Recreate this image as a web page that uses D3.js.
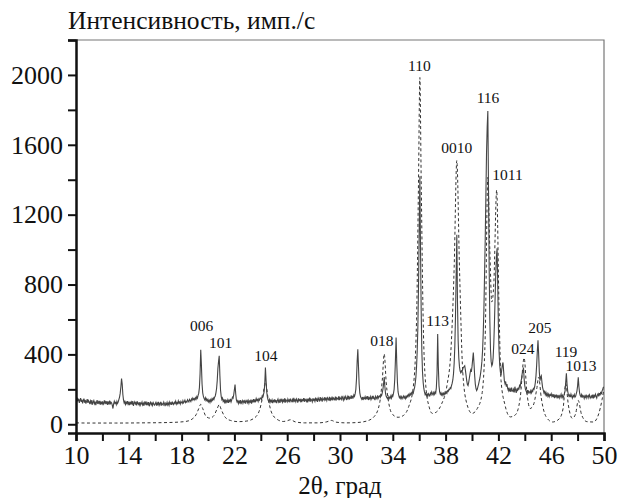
<!DOCTYPE html>
<html>
<head>
<meta charset="utf-8">
<script src="https://cdn.jsdelivr.net/npm/d3@7"></script>
<style>
body { margin: 0; background: #fff; }
text { font-family: "Liberation Serif", "Times New Roman", serif; fill: #111; }
</style>
</head>
<body>
<svg id="chart" width="621" height="498"></svg>
<script>
// experimental pattern, one count every 0.05 deg starting at 10
var expStart = 10
var expStep = 0.05
var expCounts = [
140,126,152,133,146,122,138,150,128,141,120,135,147,124,139,118,131,144,122,136,
128,115,133,121,139,112,127,136,118,130,110,125,138,116,129,121,134,112,126,119,
131,109,124,137,115,128,120,133,111,126,118,135,114,127,122,108,90,117,132,120,
125,113,131,119,128,142,156,178,215,262,230,170,138,122,131,114,126,119,133,115,
124,110,130,118,127,112,133,105,121,129,116,124,108,131,119,113,126,102,122,117,
128,111,120,106,125,117,131,109,122,114,127,103,119,126,112,121,108,124,116,110,
118,125,107,121,113,128,109,119,124,106,122,115,110,127,118,104,120,113,126,111,
121,109,127,116,123,111,130,118,113,126,120,132,115,124,118,134,121,127,116,131,
125,119,134,122,129,138,124,131,127,140,133,128,142,136,130,145,138,150,141,147,
139,152,144,158,150,165,178,210,290,426,340,230,180,160,148,140,152,136,145,133,
141,128,137,125,140,131,146,138,150,142,155,162,180,205,250,320,360,392,280,195,
160,142,150,131,138,126,142,120,135,128,140,122,137,131,146,128,140,155,150,170,
198,227,175,140,128,135,119,132,124,138,115,129,136,121,133,126,140,118,131,137,
124,136,120,133,127,141,118,135,129,144,125,138,131,147,136,142,130,145,138,150,
150,142,160,155,170,185,230,325,250,185,155,138,131,142,125,137,129,140,121,136,
130,143,126,139,121,135,144,128,137,122,140,133,146,127,138,131,149,124,141,135,
128,144,132,139,125,147,136,130,142,126,151,133,140,129,145,137,124,148,135,141,
132,146,127,140,136,150,129,143,138,131,147,125,142,136,153,130,144,139,128,149,
137,142,131,152,138,145,128,149,140,134,155,139,146,130,150,143,137,156,141,148,
135,151,144,139,157,133,148,142,158,137,150,145,140,159,136,152,147,143,160,138,
153,146,141,162,149,138,155,144,160,151,139,158,147,163,142,154,150,165,145,158,
152,168,160,175,200,260,360,430,330,230,180,160,150,143,156,139,152,147,158,141,
155,148,161,139,152,146,158,141,150,163,144,157,149,138,160,152,145,166,150,158,
162,155,170,164,180,200,230,270,215,175,160,152,147,158,143,155,149,162,150,168,
160,175,200,260,370,496,350,240,185,165,152,160,148,158,145,154,162,150,158,147,
160,152,165,158,170,162,175,168,180,172,185,178,195,210,235,270,330,420,560,800,
1100,1420,1000,650,420,300,240,205,185,170,178,165,172,160,175,168,162,178,170,185,
175,168,182,172,185,178,210,290,517,330,220,185,172,180,168,176,165,178,170,182,
175,185,178,192,188,200,198,210,205,222,235,255,290,350,450,620,850,1085,700,480,
380,330,305,295,305,300,318,325,330,335,310,280,250,228,222,240,265,290,310,300,
330,370,411,350,280,230,205,193,200,215,230,248,265,290,320,360,420,520,650,850,
1050,1300,1550,1700,1794,1350,900,600,430,360,335,345,380,460,580,720,860,960,1007,800,
560,420,340,300,280,310,340,354,300,250,233,245,215,230,205,193,210,188,200,185,
210,193,188,200,182,215,195,180,205,190,210,198,222,215,240,260,290,300,325,260,
220,200,190,180,195,175,190,185,178,192,180,195,188,205,200,215,240,280,340,420,
481,400,300,250,270,278,240,210,195,180,188,170,182,165,175,160,172,158,170,165,
175,160,168,155,172,150,165,158,170,148,162,155,168,150,160,172,155,165,150,162,
175,190,240,292,230,190,170,160,168,155,172,160,150,165,158,170,155,160,175,190,
220,269,215,180,165,158,170,152,165,160,148,162,155,170,150,160,165,152,168,158,
150,162,155,170,148,165,158,172,160,150,168,175,160,178,165,185,172,190,200,212,
210]

// calculated pattern (dashed)
var calcTheta = [10,11,13,15,17,18.3,18.8,19.1,19.3,19.45,19.6,19.85,20.15,20.45,20.7,20.85,21,21.3,21.7,22.3,
	22.9,23.5,23.9,24.15,24.35,24.55,24.8,25.2,25.7,26,26.25,26.6,27.3,28.3,29,29.35,29.7,30.5,31.3,32,
	32.6,33,33.2,33.35,33.5,33.75,34,34.4,34.8,35.2,35.55,35.8,35.95,36.05,36.15,36.3,36.5,36.75,37,37.3,
	37.7,38.1,38.4,38.65,38.85,39.05,39.3,39.6,40,40.4,40.75,41,41.2,41.35,41.5,41.65,41.87,42.05,42.2,42.5,
	42.9,43.3,43.65,43.95,44.15,44.4,44.65,44.9,45.05,45.25,45.6,46.1,46.6,46.9,47.1,47.3,47.6,47.85,48.05,48.3,
	48.7,49.2,49.6,49.85,50]
var calcCounts = [8,7,7,8,10,16,30,55,90,114,90,45,35,50,90,112,85,40,22,15,
	18,35,80,160,240,150,70,30,16,20,26,14,8,8,14,22,12,8,10,18,
	45,120,250,403,240,100,55,40,50,100,212,600,1400,1985,1400,600,220,100,62,70,
	117,220,420,900,1510,900,300,120,62,90,170,500,1415,1000,700,800,1341,650,250,110,
	42,55,150,380,190,90,110,200,270,150,45,13,30,90,233,110,34,60,136,55,
	15,13,60,140,205]

// reflections
var hklLabels = ["006","101","104","018","110","113","0010","116","1011","024","205","119","1013"]
var hklTheta = [19.52,20.95,24.38,33.18,36.02,37.39,38.84,41.21,42.69,43.86,45.15,47.12,48.26]
var hklCounts = [534,437,362,448,2023,563,1553,1839,1397,405,523,385,305]

var yTicks = d3.range(0, 2201, 200)
var xTicks = d3.range(10, 51, 2)

var svg = d3.select("#chart")
var pLeft = 76, pRight = 604, pTop = 40, pBottom = 433

var x = d3.scaleLinear().domain([10, 50]).range([pLeft, pRight])
var y = d3.scaleLinear().domain([-50, 2200]).range([pBottom, pTop])

svg.append("defs").append("clipPath").attr("id", "plot")
	.append("rect").attr("x", pLeft).attr("y", pTop).attr("width", pRight - pLeft).attr("height", pBottom - pTop)

// frame top and right
svg.append("path")
	.attr("d", "M" + pLeft + "," + pTop + "H" + pRight + "V" + pBottom)
	.attr("fill", "none").attr("stroke", "#777").attr("stroke-width", 1.2)

var expData = expCounts.map(function(c, i) { return [expStart + i * expStep, c] })
var calcData = calcTheta.map(function(t, i) { return [t, calcCounts[i]] })

var plot = svg.append("g").attr("clip-path", "url(#plot)")

plot.append("path")
	.datum(calcData)
	.attr("d", d3.line().x(function(d) { return x(d[0]) }).y(function(d) { return y(d[1]) }).curve(d3.curveMonotoneX))
	.attr("fill", "none").attr("stroke", "#333").attr("stroke-width", 1).attr("stroke-dasharray", "3,2.5")

plot.append("path")
	.datum(expData)
	.attr("d", d3.line().x(function(d) { return x(d[0]) }).y(function(d) { return y(d[1]) }))
	.attr("fill", "none").attr("stroke", "#444").attr("stroke-width", 1.1)

// axes
var yAxis = svg.append("g").attr("transform", "translate(" + pLeft + ",0)")
	.call(d3.axisLeft(y).tickValues(yTicks).tickSize(8).tickPadding(5)
		.tickFormat(function(d) { return d % 400 == 0 && d <= 2000 ? d : "" }))
var xAxis = svg.append("g").attr("transform", "translate(0," + pBottom + ")")
	.call(d3.axisBottom(x).tickValues(xTicks).tickSize(8).tickPadding(5)
		.tickFormat(function(d) { return (d - 10) % 4 == 0 ? d : "" }))

svg.selectAll(".domain").attr("stroke", "#111").attr("stroke-width", 2.5)
svg.selectAll(".tick line").attr("stroke", "#111").attr("stroke-width", 2)
svg.selectAll(".tick text").style("font-size", "26px").attr("fill", "#111")
	.style("font-family", '"Liberation Serif", serif')

// peak labels
svg.selectAll(".hkl")
	.data(hklLabels)
	.enter().append("text")
	.attr("class", "hkl")
	.attr("x", function(d, i) { return x(hklTheta[i]) })
	.attr("y", function(d, i) { return y(hklCounts[i]) })
	.attr("text-anchor", "middle")
	.style("font-size", "15.5px")
	.text(function(d) { return d })

svg.append("text").attr("x", 68).attr("y", 29).style("font-size", "25.5px")
	.text("Интенсивность, имп./с")
svg.append("text").attr("x", 340).attr("y", 494).attr("text-anchor", "middle").style("font-size", "25px")
	.text("2θ, град")
</script>
</body>
</html>
